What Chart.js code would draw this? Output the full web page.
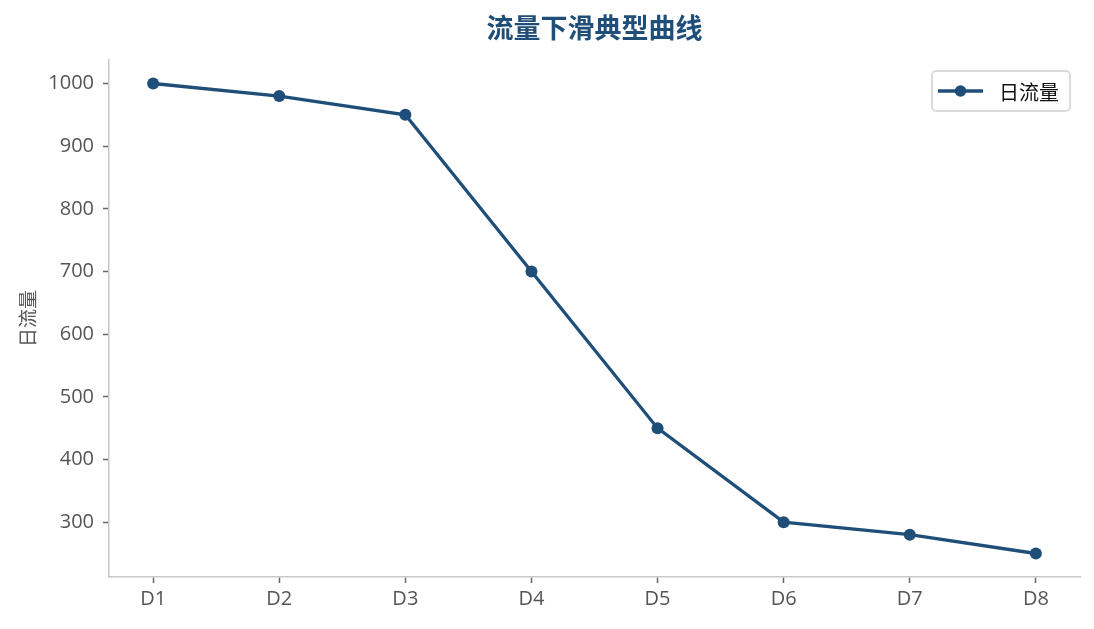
<!DOCTYPE html>
<html>
<head>
<meta charset="utf-8">
<script src="https://cdn.jsdelivr.net/npm/chart.js@4"></script>
<style>
  body { margin: 0; background: #fff; }
</style>
</head>
<body>
<canvas id="myChart" width="1094" height="629"></canvas>
<script>
// values
const days = ["D1", "D2", "D3", "D4", "D5", "D6", "D7", "D8"];
const dailyFlow = [1000, 980, 950, 700, 450, 300, 280, 250];
const yTicks = [300, 400, 500, 600, 700, 800, 900, 1000];

const lineColor = "#1f4e79";
const fontFam = "'Open Sans', 'Noto Sans CJK SC', sans-serif";

// title + legend drawn by hand so they sit where the reference has them
const extras = {
  id: "extras",
  afterDraw(chart) {
    const ctx = chart.ctx;
    const area = chart.chartArea;
    ctx.save();
    // title
    ctx.fillStyle = lineColor;
    ctx.font = "bold 27px 'Noto Sans CJK SC', sans-serif";
    ctx.textAlign = "center";
    ctx.textBaseline = "middle";
    ctx.fillText("流量下滑典型曲线", (area.left + area.right) / 2, 28);

    // legend box
    const bx = 932, by = 71, bw = 138, bh = 40;
    ctx.beginPath();
    ctx.roundRect(bx, by, bw, bh, 4);
    ctx.fillStyle = "rgba(255,255,255,0.9)";
    ctx.fill();
    ctx.strokeStyle = "#d0d0d0";
    ctx.lineWidth = 1.5;
    ctx.stroke();
    ctx.beginPath();
    ctx.moveTo(938, 91);
    ctx.lineTo(983, 91);
    ctx.strokeStyle = lineColor;
    ctx.lineWidth = 3.3;
    ctx.stroke();
    ctx.beginPath();
    ctx.arc(960.5, 91, 5.8, 0, Math.PI * 2);
    ctx.fillStyle = lineColor;
    ctx.fill();
    ctx.fillStyle = "#111";
    ctx.font = "20px 'Noto Sans CJK SC', sans-serif";
    ctx.textAlign = "left";
    ctx.fillText("日流量", 999, 92);
    ctx.restore();
  }
};

const ctx = document.getElementById("myChart").getContext("2d");
const myChart = new Chart(ctx, {
  type: "line",
  data: {
    datasets: [{
      label: "日流量",
      data: dailyFlow.map((v, i) => ({ x: i, y: v })),
      borderColor: lineColor,
      backgroundColor: lineColor,
      borderWidth: 3.3,
      pointRadius: 6,
      pointBorderWidth: 0,
      pointHoverRadius: 6,
      fill: false,
      tension: 0
    }]
  },
  options: {
    responsive: false,
    animation: false,
    layout: { padding: { top: 60, right: 14, left: 0, bottom: 0 } },
    plugins: {
      legend: { display: false },
      title: { display: false },
      tooltip: { enabled: false }
    },
    scales: {
      x: {
        type: "linear",
        min: -0.35,
        max: 7.35,
        afterBuildTicks: scale => {
          scale.ticks = days.map((d, i) => ({ value: i }));
        },
        afterFit: scale => { scale.height = 52; },
        ticks: {
          callback: v => days[v],
          color: "#555",
          font: { family: fontFam, size: 20 },
          padding: 4,
          autoSkip: false,
          maxRotation: 0
        },
        grid: { drawOnChartArea: false, tickLength: 6, tickColor: "#666", tickWidth: 1.5 },
        border: { color: "#c8c8c8", width: 1.5 }
      },
      y: {
        min: 212.5,
        max: 1037.5,
        afterBuildTicks: scale => {
          scale.ticks = yTicks.map(v => ({ value: v }));
        },
        afterFit: scale => { scale.width = 109; },
        ticks: {
          callback: v => String(v),
          color: "#555",
          font: { family: fontFam, size: 20 },
          padding: 9
        },
        grid: { drawOnChartArea: false, tickLength: 6, tickColor: "#666", tickWidth: 1.5 },
        border: { color: "#c8c8c8", width: 1.5 },
        title: {
          display: true,
          text: "日流量",
          color: "#555",
          font: { family: "'Noto Sans CJK SC', sans-serif", size: 19 },
          padding: { top: 16, bottom: 0 }
        }
      }
    }
  },
  plugins: [extras]
});
</script>
</body>
</html>
